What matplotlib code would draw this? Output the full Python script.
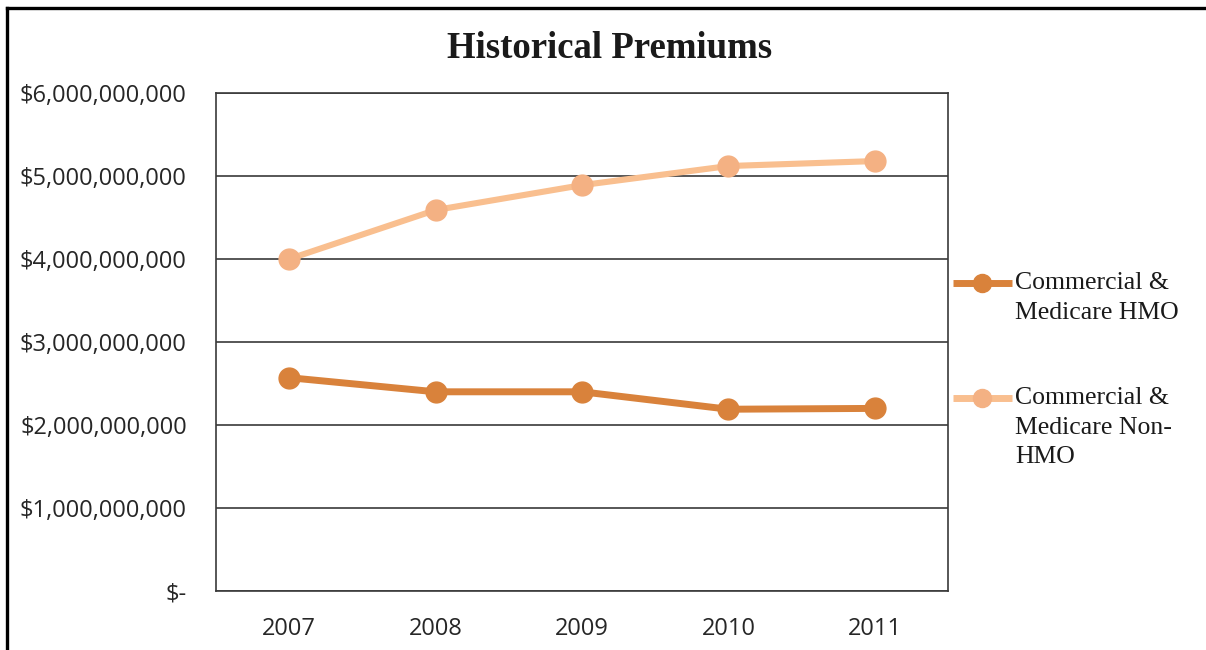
import matplotlib
matplotlib.use("Agg")
import matplotlib.pyplot as plt
from matplotlib.lines import Line2D
from matplotlib.ticker import FuncFormatter, MultipleLocator

# ---- data ----
years = ["2007", "2008", "2009", "2010", "2011"]
hmo = [2.57e9, 2.40e9, 2.40e9, 2.19e9, 2.20e9]
non_hmo = [4.00e9, 4.59e9, 4.89e9, 5.12e9, 5.18e9]
series_names = ["Commercial & Medicare HMO", "Commercial & Medicare Non-HMO"]
legend_lines = [["Commercial &", "Medicare HMO"],
                ["Commercial &", "Medicare Non-", "HMO"]]
title = "Historical Premiums"

# ---- style ----
W, H = 1206, 650
fig = plt.figure(figsize=(W / 100, H / 100), dpi=100)
fig.patch.set_facecolor("white")

ax = fig.add_axes([216 / W, 59 / H, 732 / W, 498 / H])
x = list(range(len(years)))

c_hmo = "#D9823B"
c_non_line = "#F9BF8F"
c_non_mark = "#F4B183"

ax.plot(x, non_hmo, color=c_non_line, lw=4.4, marker="o", ms=15,
        markerfacecolor=c_non_mark, markeredgecolor=c_non_mark, zorder=3,
        solid_capstyle="round", label=series_names[1])
ax.plot(x, hmo, color=c_hmo, lw=5, marker="o", ms=15,
        markerfacecolor=c_hmo, markeredgecolor=c_hmo, zorder=3,
        solid_capstyle="round", label=series_names[0])

ax.set_xlim(-0.5, len(years) - 0.5)
ax.set_ylim(0, 6e9)
ax.yaxis.set_major_locator(MultipleLocator(1e9))
ax.set_xticks(x)
ax.set_xticklabels(years)


def fmt(v, pos):
    if abs(v) < 1:
        return "$-"
    return "${:,.0f}".format(v)


ax.yaxis.set_major_formatter(FuncFormatter(fmt))
ax.grid(axis="y", color="#3a3a3a", lw=1.2)
ax.set_axisbelow(True)
for s in ax.spines.values():
    s.set_color("#3a3a3a")
    s.set_linewidth(1.2)
ax.tick_params(axis="both", length=0, labelsize=17, labelcolor="#262626")
ax.tick_params(axis="y", pad=21)
ax.tick_params(axis="x", pad=19)
for lab in ax.get_xticklabels() + ax.get_yticklabels():
    lab.set_family("Open Sans")

# title
fig.text(610 / W, 1 - 49 / H, title, ha="center", va="center",
         fontsize=26.5, fontweight="bold", family="Liberation Serif", color="#1a1a1a")

# legend (manual, first line aligned with handle)
leg_y = [283, 398]
colors = [(c_hmo, c_hmo), (c_non_line, c_non_mark)]
for yy, lines, (lc, mc) in zip(leg_y, legend_lines, colors):
    fy = 1 - yy / H
    fig.add_artist(Line2D([953 / W, 1012 / W], [fy, fy], transform=fig.transFigure,
                          color=lc, lw=5, solid_capstyle="butt"))
    fig.add_artist(Line2D([982 / W], [fy], transform=fig.transFigure,
                          marker="o", ms=13, color=mc, markeredgecolor=mc))
    for i, t in enumerate(lines):
        fig.text(1015 / W, 1 - (yy + i * 29.5) / H, t, ha="left", va="center",
                 fontsize=18.5, family="Liberation Serif", color="#1a1a1a")

# outer border (top and left only visible)
fig.add_artist(Line2D([7 / W, 1], [1 - 7.5 / H, 1 - 7.5 / H], transform=fig.transFigure,
                      color="black", lw=2.4))
fig.add_artist(Line2D([7 / W, 7 / W], [0, 1 - 7.5 / H], transform=fig.transFigure,
                      color="black", lw=2.4))

fig.savefig("out.png", dpi=100, facecolor="white")
